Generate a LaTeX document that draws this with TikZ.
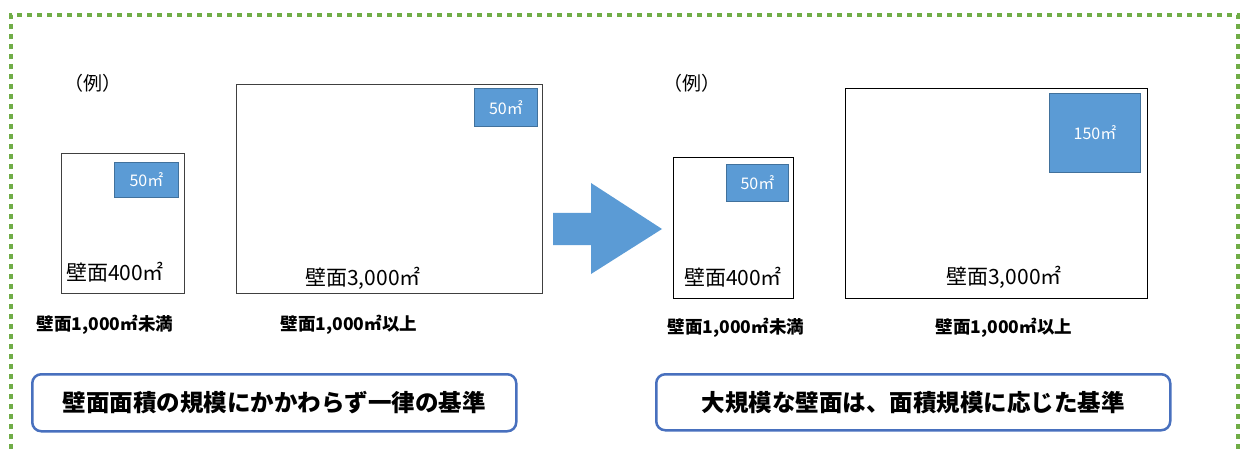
\documentclass[tikz,border=0pt]{standalone}
\usepackage{fontspec}
\setmainfont{Noto Sans CJK JP}
\usepackage{tikz}
\definecolor{wlGreen}{RGB}{112,173,71}
\definecolor{wlBlue}{RGB}{91,155,213}
\definecolor{wlBlueEdge}{RGB}{65,113,156}
\definecolor{wlFrame}{RGB}{72,112,190}
\newcommand{\fs}[1]{\fontsize{#1}{#1}\selectfont}

\begin{document}
\begin{tikzpicture}[x=1pt, y=-1pt,
        frame/.style={draw=wlGreen, line width=4pt, dash pattern=on 5pt off 5pt},
        wall/.style={draw=black!75, line width=0.9pt, fill=white, anchor=north west, inner sep=0pt},
        area/.style={draw=wlBlueEdge, line width=0.9pt, fill=wlBlue, anchor=north west, inner sep=0pt},
        areatxt/.style={text=white, font=\fs{16}},
        walltxt/.style={font=\fs{21}},
        sizetxt/.style={font=\fs{17.5}\bfseries},
        rulebox/.style={draw=wlFrame, line width=2.5pt, rounded corners=9pt, fill=white, anchor=north west, inner sep=0pt},
        ruletxt/.style={font=\fs{23.5}\bfseries}
      ]
        \useasboundingbox (0,0) rectangle (1242,449);
        % green frame, open at the bottom
        \draw[frame] (11,449) -- (11,15) -- (1238,15) -- (1238,449);

        % left side: current rule
        \node[font=\fs{19}] (exL) at (93,83) {（例）};
        \node[wall, minimum width=123pt, minimum height=140pt] (smallL) at (61,153) {};
        \node[wall, minimum width=306pt, minimum height=209pt] (bigL) at (236,84) {};
        \node[area, minimum width=64pt, minimum height=35pt] (aSmallL) at (114,162) {};
        \node[area, minimum width=63pt, minimum height=38pt] (aBigL) at (474,88) {};
        \node[areatxt] at (aSmallL.center) {50㎡};
        \node[areatxt] at (aBigL.center) {50㎡};
        \node[walltxt] (wSmallL) at (115,272) {壁面400㎡};
        \node[walltxt] (wBigL) at (363,278) {壁面3,000㎡};
        \node[sizetxt] (sSmallL) at (105,325) {壁面1,000㎡未満};
        \node[sizetxt] (sBigL) at (349,325) {壁面1,000㎡以上};
        \node[rulebox, minimum width=484pt, minimum height=57pt] (ruleL) at (31,373) {};
        \node[ruletxt] at (ruleL.center) {壁面面積の規模にかかわらず一律の基準};

        % block arrow
        \fill[wlBlue] (553,213) -- (591,213) -- (591,183) -- (662,229) -- (591,274) -- (591,245) -- (553,245) -- cycle;

        % right side: new rule
        \node[font=\fs{19}] (exR) at (692,83) {（例）};
        \node[wall, draw=black, minimum width=120pt, minimum height=141pt] (smallR) at (673,157) {};
        \node[wall, draw=black, line width=1.4pt, minimum width=302pt, minimum height=210pt] (bigR) at (845,88) {};
        \node[area, minimum width=62pt, minimum height=37pt] (aSmallR) at (726,164) {};
        \node[area, minimum width=91pt, minimum height=79pt] (aBigR) at (1049,93) {};
        \node[areatxt] at (aSmallR.center) {50㎡};
        \node[areatxt] at (aBigR.center) {150㎡};
        \node[walltxt] (wSmallR) at (733,277) {壁面400㎡};
        \node[walltxt] (wBigR) at (1004,277) {壁面3,000㎡};
        \node[sizetxt] (sSmallR) at (736,328) {壁面1,000㎡未満};
        \node[sizetxt] (sBigR) at (1004,328) {壁面1,000㎡以上};
        \node[rulebox, minimum width=514pt, minimum height=56pt] (ruleR) at (655,373) {};
        \node[ruletxt] at (ruleR.center) {大規模な壁面は、面積規模に応じた基準};
      \end{tikzpicture}
\end{document}
